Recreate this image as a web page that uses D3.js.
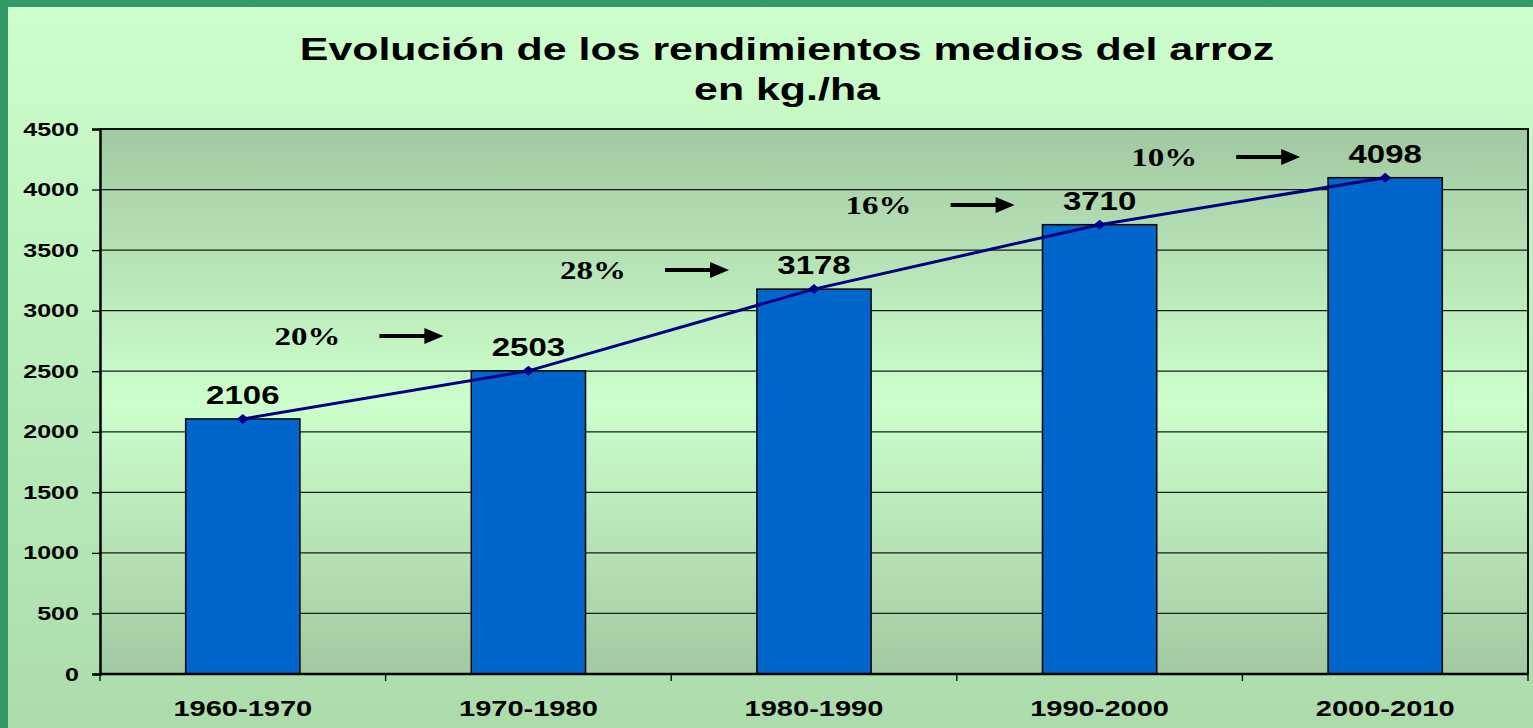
<!DOCTYPE html>
<html>
<head>
<meta charset="utf-8">
<script src="https://cdn.jsdelivr.net/npm/d3@7"></script>
<style>
  body { margin: 0; overflow: hidden; }
  svg { display: block; }
</style>
</head>
<body>
<div id="plot"></div>
<script>
// Data
var periods = ["1960-1970", "1970-1980", "1980-1990", "1990-2000", "2000-2010"];
var yields = [2106, 2503, 3178, 3710, 4098];
var growth_labels = ["20%", "28%", "16%", "10%"];
// baseline height (kg/ha) of each growth label, placed before bars 2..5
var growth_y = [2717, 3261, 3798, 4195];
var y_ticks = [0, 500, 1000, 1500, 2000, 2500, 3000, 3500, 4000, 4500];
var title_lines = ["Evolución de los rendimientos medios del arroz", "en kg./ha"];

var width = 1533, height = 728;
var plot_left = 100, plot_right = 1528, plot_top = 129, plot_bottom = 674;
var stretch = 1.32; // the original text is wider than normal fonts
var sans = "'Liberation Sans', Arial, sans-serif";
var serif = "'Liberation Serif', 'Times New Roman', serif";

var svg = d3.select("div#plot").append("svg")
    .attr("width", width)
    .attr("height", height);

var defs = svg.append("defs");
var bg_grad = defs.append("linearGradient")
    .attr("id", "bg_grad").attr("x1", 0).attr("y1", 0).attr("x2", 0).attr("y2", 1);
bg_grad.append("stop").attr("offset", "0%").attr("stop-color", "#ccffcc");
bg_grad.append("stop").attr("offset", "100%").attr("stop-color", "#acdcac");

var plot_grad = defs.append("linearGradient")
    .attr("id", "plot_grad").attr("x1", 0).attr("y1", 0).attr("x2", 0).attr("y2", 1);
plot_grad.append("stop").attr("offset", "0%").attr("stop-color", "#a2c9a2");
plot_grad.append("stop").attr("offset", "50%").attr("stop-color", "#ccffcc");
plot_grad.append("stop").attr("offset", "100%").attr("stop-color", "#a2c9a2");

// Background and green frame
svg.append("rect").attr("width", width).attr("height", height).attr("fill", "url(#bg_grad)");
svg.append("rect").attr("x", 0).attr("y", 0).attr("width", 8).attr("height", height).attr("fill", "#339966");
svg.append("rect").attr("x", 0).attr("y", 0).attr("width", width).attr("height", 7).attr("fill", "#339966");

// Title
svg.append("g").attr("id", "title")
    .selectAll("text")
    .data(title_lines)
    .join("text")
        .attr("transform", (d, i) => "translate(787," + (60 + i * 40) + ") scale(1.34,1)")
        .attr("text-anchor", "middle")
        .style("font-family", sans)
        .style("font-weight", "bold")
        .style("font-size", "32px")
        .text(d => d);

// Scales
var x_scale = d3.scaleBand()
    .domain(periods)
    .range([plot_left, plot_right])
    .paddingInner(0.6)
    .paddingOuter(0.3);

var y_scale = d3.scaleLinear()
    .domain([0, 4500])
    .range([plot_bottom, plot_top]);

var step = x_scale.step();
var cx = d => x_scale(d) + x_scale.bandwidth() / 2;

// Plot area
svg.append("rect")
    .attr("x", plot_left).attr("y", plot_top)
    .attr("width", plot_right - plot_left).attr("height", plot_bottom - plot_top)
    .attr("fill", "url(#plot_grad)");

// Gridlines
svg.append("g").attr("id", "grid")
    .selectAll("line")
    .data(y_ticks.slice(1))
    .join("line")
        .attr("x1", plot_left).attr("x2", plot_right)
        .attr("y1", d => y_scale(d)).attr("y2", d => y_scale(d))
        .style("stroke", "#1a1a1a")
        .style("stroke-width", 1.3);

// Plot border (top / right)
svg.append("path")
    .attr("d", "M" + plot_left + "," + plot_top + "H" + plot_right + "V" + plot_bottom)
    .attr("fill", "none")
    .style("stroke", "#111")
    .style("stroke-width", 2);

// Y axis
var g_y_axis = svg.append("g")
    .attr("id", "y_axis")
    .attr("transform", "translate(" + plot_left + ", 0)")
    .call(d3.axisLeft(y_scale).tickValues(y_ticks).tickSize(8).tickFormat(d3.format("d")));
g_y_axis.select(".domain").style("stroke", "#000").style("stroke-width", 2.5);
g_y_axis.selectAll(".tick line").style("stroke", "#000").style("stroke-width", 1.3);
g_y_axis.selectAll(".tick text")
    .attr("x", 0)
    .attr("transform", "translate(-21,0) scale(" + stretch + ",1)")
    .style("font-family", sans)
    .style("font-weight", "bold")
    .style("font-size", "19px")
    .style("fill", "#000");

// X axis
var g_x_axis = svg.append("g")
    .attr("id", "x_axis")
    .attr("transform", "translate(0, " + plot_bottom + ")")
    .call(d3.axisBottom(x_scale).tickSize(0).tickPadding(26));
g_x_axis.select(".domain").remove();
g_x_axis.selectAll(".tick text")
    .attr("transform", "scale(" + stretch + ",1)")
    .style("font-family", sans)
    .style("font-weight", "bold")
    .style("font-size", "22px")
    .style("fill", "#000");
g_x_axis.selectAll("line.sep")
    .data(d3.range(periods.length + 1))
    .join("line")
        .attr("class", "sep")
        .attr("x1", i => plot_left + i * step).attr("x2", i => plot_left + i * step)
        .attr("y1", 0).attr("y2", 7)
        .style("stroke", "#000")
        .style("stroke-width", 1.3);

// Bars
svg.append("g").attr("id", "bars")
    .selectAll("rect")
    .data(periods)
    .join("rect")
        .attr("x", d => x_scale(d))
        .attr("y", (d, i) => y_scale(yields[i]))
        .attr("width", x_scale.bandwidth())
        .attr("height", (d, i) => plot_bottom - y_scale(yields[i]))
        .style("fill", "#0066cc")
        .style("stroke", "#000")
        .style("stroke-width", 1.5);

// Bottom axis line on top of bars
svg.append("line")
    .attr("x1", plot_left).attr("x2", plot_right)
    .attr("y1", plot_bottom).attr("y2", plot_bottom)
    .style("stroke", "#000")
    .style("stroke-width", 2.5);

// Trend line with diamond markers
var line = d3.line()
    .x((d, i) => cx(periods[i]))
    .y(d => y_scale(d));

svg.append("path")
    .attr("d", line(yields))
    .attr("fill", "none")
    .style("stroke", "#000080")
    .style("stroke-width", 3);

svg.append("g").attr("id", "markers")
    .selectAll("path")
    .data(yields)
    .join("path")
        .attr("transform", (d, i) => "translate(" + cx(periods[i]) + "," + y_scale(d) + ")")
        .attr("d", "M-6,0L0,-5L6,0L0,5Z")
        .style("fill", "#000080");

// Value labels
svg.append("g").attr("id", "values")
    .selectAll("text")
    .data(yields)
    .join("text")
        .attr("transform", (d, i) => "translate(" + cx(periods[i]) + "," + (y_scale(d) - 15) + ") scale(" + stretch + ",1)")
        .attr("text-anchor", "middle")
        .style("font-family", sans)
        .style("font-weight", "bold")
        .style("font-size", "25px")
        .text(d => d);

// Growth annotations with arrows
var g_growth = svg.append("g").attr("id", "growth");
growth_labels.forEach(function(label, i) {
    var c = cx(periods[i + 1]);
    var yb = y_scale(growth_y[i]);
    g_growth.append("text")
        .attr("transform", "translate(" + (c - 221) + "," + yb + ") scale(1.27,1)")
        .attr("text-anchor", "middle")
        .style("font-family", serif)
        .style("font-weight", "bold")
        .style("font-size", "26px")
        .text(label);
    var ya = yb - 9;
    g_growth.append("line")
        .attr("x1", c - 149).attr("x2", c - 102)
        .attr("y1", ya).attr("y2", ya)
        .style("stroke", "#000")
        .style("stroke-width", 4);
    g_growth.append("path")
        .attr("d", "M" + (c - 85) + "," + ya + "L" + (c - 104) + "," + (ya - 8) + "L" + (c - 104) + "," + (ya + 8) + "Z")
        .style("fill", "#000");
});
</script>
</body>
</html>
